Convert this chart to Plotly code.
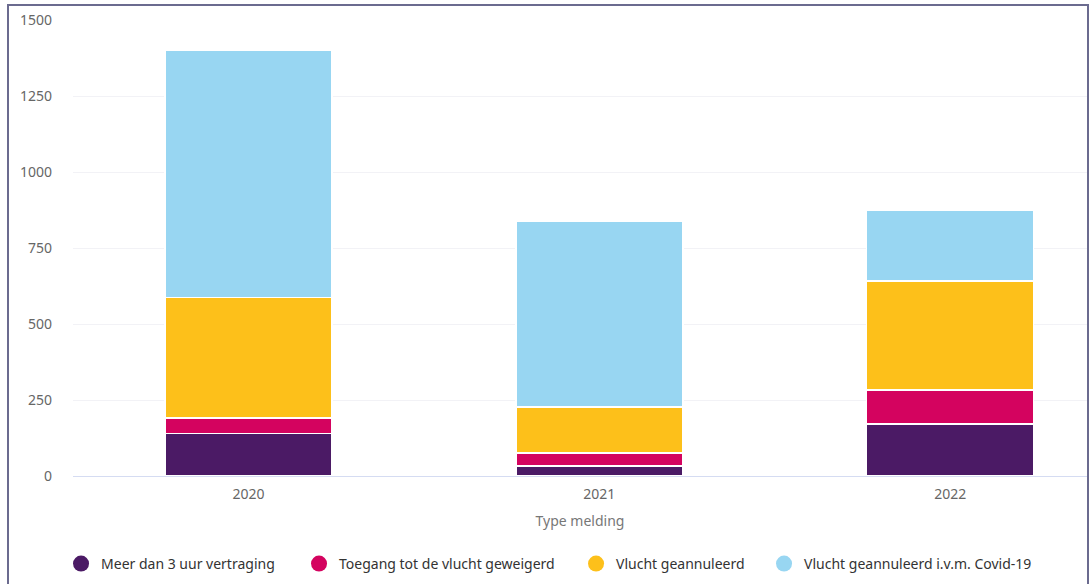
import plotly.graph_objects as go

years = ["2020", "2021", "2022"]
series_names = ["Meer dan 3 uur vertraging", "Toegang tot de vlucht geweigerd",
                "Vlucht geannuleerd", "Vlucht geannuleerd i.v.m. Covid-19"]
vertraging = [140, 33, 171]
geweigerd = [50, 43, 112]
geannuleerd = [398, 151, 358]
covid = [812, 612, 234]
colors = ["#4b1a65", "#d4035f", "#fdc01a", "#98d6f2"]
y_ticks = [0, 250, 500, 750, 1000, 1250, 1500]

values = [vertraging, geweigerd, geannuleerd, covid]
legend_ids = ["legend", "legend2", "legend3", "legend4"]
legend_x = [-0.0118, 0.2229, 0.4961, 0.6815]

fig = go.Figure()
for name, vals, col in zip(series_names, values, colors):
    fig.add_trace(go.Bar(
        x=years, y=vals, name=name, showlegend=False,
        marker=dict(color=col, line=dict(color="white", width=1.5)),
        width=0.476,
    ))
for name, col, lid in zip(series_names, colors, legend_ids):
    fig.add_trace(go.Scatter(
        x=[None], y=[None], mode="markers", name=name, legend=lid,
        marker=dict(color=col, size=17, symbol="circle"),
    ))

legend_common = dict(
    orientation="h", xanchor="left", y=-0.193, yanchor="middle",
    font=dict(size=14, color="#333"), bgcolor="rgba(0,0,0,0)",
)

fig.update_layout(
    width=1091, height=584,
    barmode="stack",
    plot_bgcolor="white", paper_bgcolor="white",
    margin=dict(l=73, r=4, t=20, b=108, autoexpand=False),
    font=dict(family="Noto Sans, Open Sans, sans-serif", color="#555"),
    xaxis=dict(
        type="category", range=[-0.5, 2.39],
        showgrid=False, showline=False, ticks="",
        tickfont=dict(size=14, color="#666"),
        ticklabelstandoff=8,
        title=dict(text="Type melding", font=dict(size=14, color="#777"), standoff=14),
    ),
    yaxis=dict(
        range=[0, 1500], tickvals=y_ticks,
        showgrid=True, gridcolor="#f2f2f6", gridwidth=1,
        zeroline=True, zerolinecolor="#d5dcf2", zerolinewidth=1,
        tickfont=dict(size=14, color="#666"),
        ticklabelstandoff=20,
    ),
    shapes=[dict(
        type="rect", xref="paper", yref="paper",
        x0=(8 - 73) / 1014, x1=(1088 - 73) / 1014,
        y0=-0.3, y1=(476 - 5) / 456,
        line=dict(color="#6b6b8f", width=2), fillcolor="rgba(0,0,0,0)",
        layer="above",
    )],
)
for lid, lx in zip(legend_ids, legend_x):
    fig.update_layout({lid: dict(legend_common, x=lx)})

fig.write_html("out.html", config={"displayModeBar": False},
               post_script="document.body.style.margin='0px';")
